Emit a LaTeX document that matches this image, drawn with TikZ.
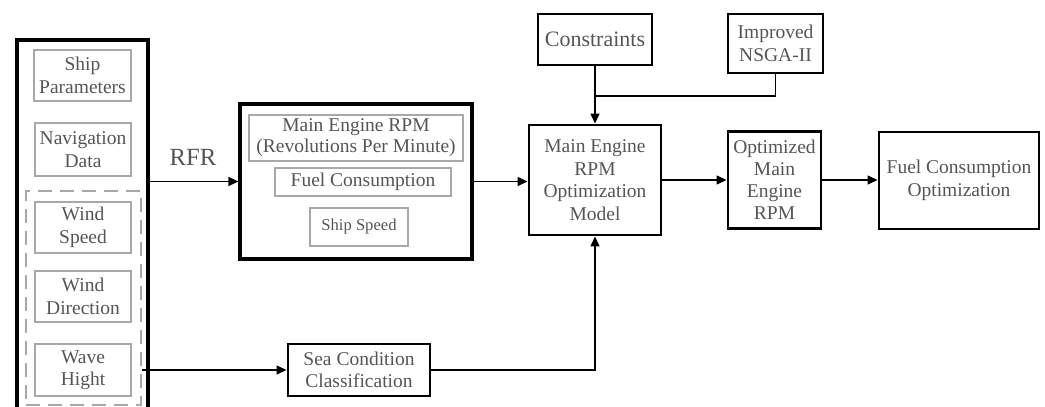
\documentclass[tikz,border=0pt]{standalone}
\usepackage{fontspec}
\setmainfont{Liberation Serif}
\usetikzlibrary{arrows.meta}
\definecolor{txt}{HTML}{555555}
\definecolor{graybd}{HTML}{A8A8A8}
\tikzset{
  base/.style={rectangle, inner sep=0pt, align=center, text=txt,
    font=\fontsize{19.5}{22.5}\selectfont},
  blackbox/.style={base, draw=black, line width=2.9pt},
  graybox/.style={base, draw=graybd, line width=2.9pt},
  link/.style={draw=black, line width=1.4pt},
  arrow/.style={link, -{Triangle[length=10pt,width=9pt]}},
}
\begin{document}
\begin{tikzpicture}[x=1pt, y=-1pt]
\clip (0,0) rectangle (1045,407);

% input data column
\node[blackbox, line width=3.2pt, minimum width=131, minimum height=380] (inputs) at (82.5,230) {};
\node[graybox, dash pattern=on 14pt off 8pt, minimum width=115, minimum height=214] (env) at (83.5,298) {};
\node[graybox, minimum width=97, minimum height=51] (ship) at (82.5,75.5) {Ship\\Parameters};
\node[graybox, minimum width=96, minimum height=53] (nav) at (83,149.5) {Navigation\\Data};
\node[graybox, minimum width=96, minimum height=51] (wspeed) at (83,227.5) {Wind\\Speed};
\node[graybox, minimum width=96, minimum height=51] (wdir) at (83,296.5) {Wind\\Direction};
\node[graybox, minimum width=96, minimum height=52] (wave) at (83,370) {Wave\\Hight};

% RFR feature block
\node[blackbox, line width=3.2pt, minimum width=232, minimum height=155] (feat) at (356,181.5) {};
\node[graybox, minimum width=214, minimum height=46, font=\fontsize{19.5}{21}\selectfont] (rpm) at (356,138) {Main Engine RPM\\(Revolutions Per Minute)};
\node[graybox, minimum width=176, minimum height=28] (fuel) at (363,182) {Fuel Consumption};
\node[graybox, minimum width=98, minimum height=38, font=\fontsize{16.6}{19}\selectfont] (speed) at (359,227) {Ship Speed};
\node[base, font=\fontsize{24.7}{28}\selectfont] (rfr) at (193,157) {RFR};

% optimisation chain
\node[blackbox, minimum width=114, minimum height=51, font=\fontsize{22}{25}\selectfont] (cons) at (595,39.5) {Constraints};
\node[blackbox, minimum width=95, minimum height=59] (nsga) at (775.5,43.5) {Improved\\NSGA-II};
\node[blackbox, minimum width=132, minimum height=110] (model) at (595,180) {Main Engine\\RPM\\Optimization\\Model};
\node[blackbox, minimum width=93, minimum height=97, font=\fontsize{19.5}{22}\selectfont] (opt) at (774.5,180) {Optimized\\Main\\Engine\\RPM};
\node[blackbox, minimum width=160, minimum height=97] (fopt) at (959,180.5) {Fuel Consumption\\Optimization};
\node[blackbox, minimum width=142, minimum height=52] (sea) at (359,370) {Sea Condition\\Classification};

\coordinate (merge) at (595,96);

% connectors
\draw[arrow] (inputs.east |- feat.west) -- (feat.west);
\draw[arrow] (feat.east) -- (feat.east -| model.west);
\draw[link] (cons.south) -- (merge);
\draw[link] (nsga.south) |- (merge);
\draw[arrow] (merge) -- (model.north);
\draw[arrow] (model.east) -- (opt.west);
\draw[arrow] (opt.east) -- (opt.east -| fopt.west);
\draw[arrow] (env.east |- wave.east) -- (sea.west);
\draw[arrow] (sea.east) -| (model.south);
\end{tikzpicture}
\end{document}
